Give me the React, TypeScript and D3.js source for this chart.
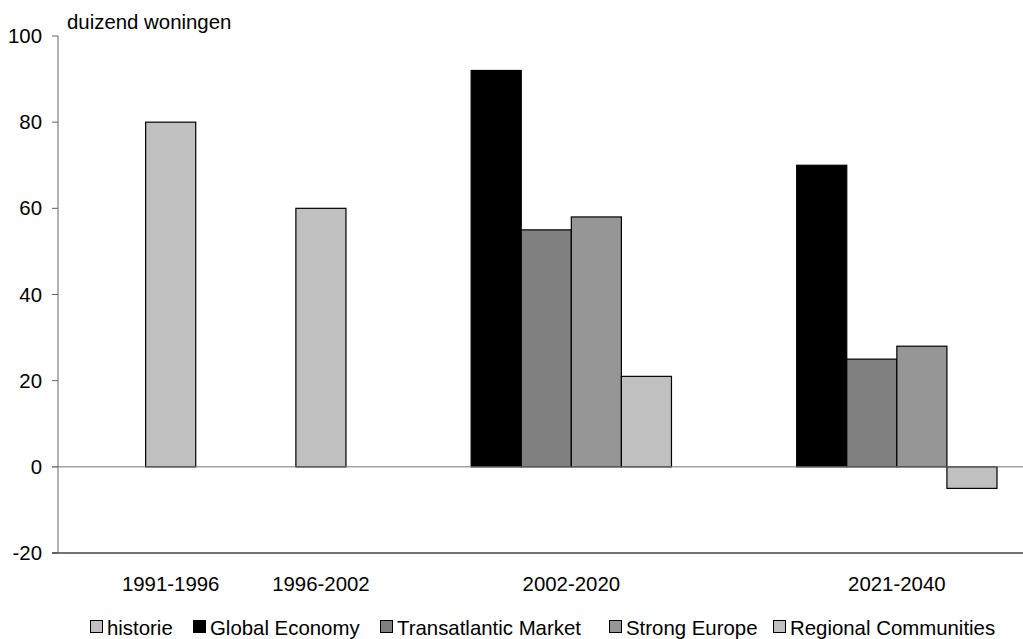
import React from 'react';
import { scaleLinear } from 'd3';

// chart values
const categories = ['1991-1996', '1996-2002', '2002-2020', '2021-2040'];
const historie = [80, 60, null, null];
const globalEconomy = [null, null, 92, 70];
const transatlanticMarket = [null, null, 55, 25];
const strongEurope = [null, null, 58, 28];
const regionalCommunities = [null, null, 21, -5];
const yTicks = [-20, 0, 20, 40, 60, 80, 100];
const yLabel = 'duizend woningen';

const series = [
  { name: 'historie', values: historie, fill: '#c0c0c0' },
  { name: 'Global Economy', values: globalEconomy, fill: '#000000' },
  { name: 'Transatlantic Market', values: transatlanticMarket, fill: '#808080' },
  { name: 'Strong Europe', values: strongEurope, fill: '#969696' },
  { name: 'Regional Communities', values: regionalCommunities, fill: '#c0c0c0' },
];

// layout (space before each category, in bar widths)
const gapBefore = [1.75, 2, 2.5, 2.5];
const legendX = [90, 193, 380, 609, 773];

const width = 1023;
const height = 639;
const margin = { top: 36, right: 0, bottom: 86, left: 58 };
const barW = 50.08;
const fontSize = 20.4;
const font = '"Liberation Sans", Arial, sans-serif';

export default function App() {
  const plotRight = width - margin.right;
  const units = (plotRight - margin.left) / barW;
  const x = scaleLinear().domain([0, units]).range([margin.left, plotRight]);
  const y = scaleLinear().domain([-20, 100]).range([height - margin.bottom, margin.top]);

  // place bars slot by slot
  const bars: { key: string; x0: number; x1: number; v: number; fill: string }[] = [];
  const centers: number[] = [];
  let pos = 0;
  categories.forEach((c, ci) => {
    pos += gapBefore[ci];
    const start = pos;
    series.forEach((s) => {
      const v = s.values[ci];
      if (v === null || v === undefined) return;
      bars.push({ key: c + s.name, x0: x(pos), x1: x(pos + 1), v, fill: s.fill });
      pos += 1;
    });
    centers.push(x((start + pos) / 2));
  });

  return (
    <svg
      width={width}
      height={height}
      style={{ position: 'absolute', left: 0, top: 0, display: 'block', background: '#fff' }}
      fontFamily={font}
    >
      <text x={67} y={29} fontSize={fontSize}>{yLabel}</text>

      {yTicks.map((t) => (
        <g key={t}>
          <line x1={margin.left - 6} x2={margin.left} y1={y(t)} y2={y(t)} stroke="#666" />
          <text x={42} y={y(t)} dy="0.35em" textAnchor="end" fontSize={fontSize}>{t}</text>
        </g>
      ))}

      {bars.map((b) => (
        <rect
          key={b.key}
          x={b.x0}
          width={b.x1 - b.x0}
          y={y(Math.max(0, b.v))}
          height={Math.abs(y(b.v) - y(0))}
          fill={b.fill}
          stroke="#000"
          strokeWidth={1.2}
        />
      ))}

      {/* zero line and bottom line */}
      <line x1={margin.left - 6} x2={plotRight} y1={y(0)} y2={y(0)} stroke="#777" />
      <line x1={margin.left - 6} x2={plotRight} y1={y(-20)} y2={y(-20)} stroke="#444" strokeWidth={1.3} />
      <line x1={margin.left} x2={margin.left} y1={y(100)} y2={y(-20)} stroke="#666" />

      {categories.map((c, i) => (
        <text key={c} x={centers[i]} y={591} textAnchor="middle" fontSize={fontSize}>{c}</text>
      ))}

      {series.map((s, i) => (
        <g key={s.name} transform={`translate(${legendX[i]},620)`}>
          <rect x={0.5} y={0.5} width={12} height={12} fill={s.fill} stroke="#000" />
          <text x={17} y={14.5} fontSize={fontSize}>{s.name}</text>
        </g>
      ))}
    </svg>
  );
}
